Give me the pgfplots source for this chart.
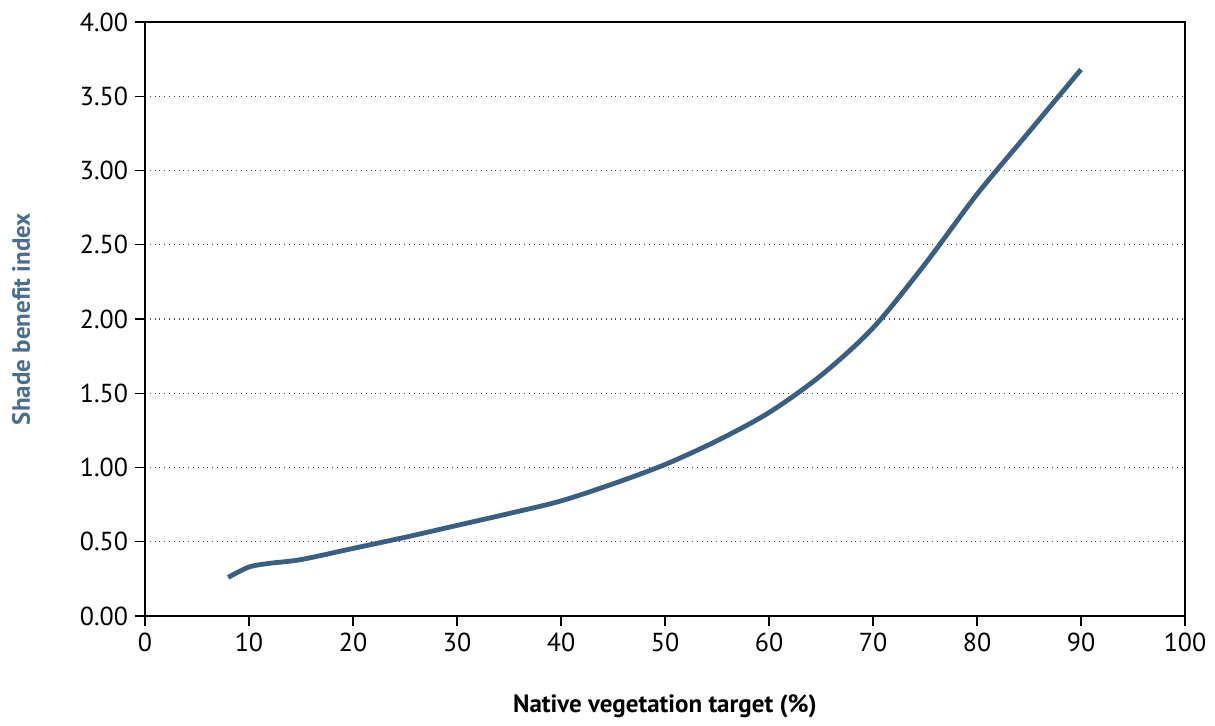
\documentclass[border=0pt]{standalone}
\usepackage{fontspec}
\setmainfont{PT Sans}
\usepackage{pgfplots}
\pgfplotsset{compat=1.18}
\definecolor{curveblue}{HTML}{3A5F80}
\definecolor{labelblue}{HTML}{4A6E8F}

\begin{document}
\begin{tikzpicture}
  \begin{axis}[
    scale only axis,
    width=520pt, height=297pt,
    xmin=0, xmax=100, ymin=0, ymax=4,
    xtick={0,10,...,100},
    ytick={0,0.5,...,4},
    yticklabel style={/pgf/number format/.cd, fixed, fixed zerofill, precision=2},
    /pgf/number format/assume math mode=true,
    tick align=outside,
    xtick pos=bottom, ytick pos=left,
    major tick length=5pt,
    tick style={black, line width=0.6pt},
    axis line style={black, line width=0.8pt},
    ymajorgrids,
    grid style={black!70, dotted, line width=0.6pt},
    ticklabel style={font=\fontsize{13}{15}\selectfont},
    xlabel={\textbf{Native vegetation target (\%)}},
    ylabel={\textbf{Shade benefit index}},
    xlabel style={font=\fontsize{12.5}{14}\selectfont, at={(axis description cs:0.5,0)}, yshift=-36pt},
    ylabel style={font=\fontsize{12.5}{14}\selectfont, color=labelblue, yshift=18pt},
  ]
    % shade benefit curve
    \addplot[curveblue, line width=2.4pt, smooth, mark=none] coordinates {
      (8,0.26) (10,0.33) (12,0.355) (15,0.38) (20,0.455) (25,0.53)
      (30,0.61) (35,0.69) (40,0.775) (45,0.89) (50,1.02) (55,1.18)
      (60,1.37) (65,1.62) (70,1.94) (75,2.37) (80,2.84) (85,3.26)
      (90,3.68)
    };
  \end{axis}
  \path (-72.5pt,-53pt) rectangle (535pt,308pt);
\end{tikzpicture}
\end{document}
